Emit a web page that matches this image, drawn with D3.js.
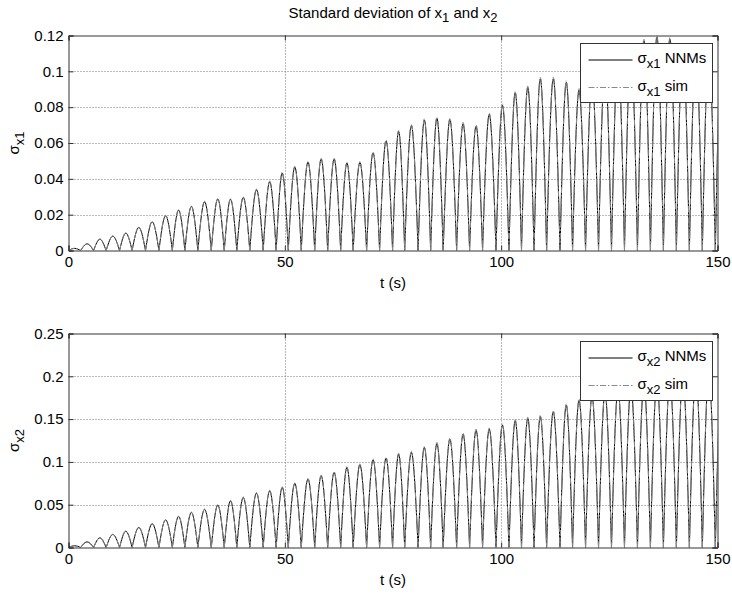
<!DOCTYPE html>
<html>
<head>
<meta charset="utf-8">
<script src="https://cdn.jsdelivr.net/npm/d3@7"></script>
<style>
  body { margin: 0; background: #fff; }
  svg { display: block; }
  text { font-family: Arial, "Liberation Sans", Helvetica, sans-serif; fill: #000; }
</style>
</head>
<body>
<svg id="fig" width="732" height="594"></svg>
<script>
// Zero crossings (s) of the oscillating standard deviation, shared by both responses
const tZero = [0, 2.8, 5.8, 8.7, 11.8, 14.7, 17.8, 20.9, 24.0, 26.9, 29.9, 33.0, 36.0, 38.9, 41.9,
  45.0, 48.0, 50.8, 53.8, 56.9, 59.9, 62.9, 65.8, 68.9, 71.9, 74.9, 77.7, 80.8, 83.7, 86.6, 89.7,
  92.7, 95.7, 98.8, 101.8, 104.7, 107.6, 110.5, 113.6, 116.5, 119.5, 122.5, 125.5, 128.5, 131.5,
  134.5, 137.5, 140.5, 143.5, 146.5, 149.5, 152.5];
// Time (s) of each local maximum
const tPeak = [1.4, 4.3, 7.25, 10.25, 13.25, 16.25, 19.35, 22.45, 25.45, 28.4, 31.45, 34.5, 37.45,
  40.4, 43.45, 46.5, 49.4, 52.3, 55.35, 58.4, 61.4, 64.35, 67.35, 70.4, 73.4, 76.3, 79.25, 82.25,
  85.15, 88.15, 91.2, 94.2, 97.25, 100.3, 103.25, 106.15, 109.05, 112.05, 115.05, 118.0, 121.0,
  124.0, 127.0, 130.0, 133.0, 136.0, 139.0, 142.0, 145.0, 148.0, 151.0];

// Peak values of sigma_x1
const x1NNMs = [0.0012, 0.0037, 0.0063, 0.0080, 0.0097, 0.0129, 0.0160, 0.0194, 0.0225, 0.0246,
  0.0272, 0.0287, 0.0286, 0.0296, 0.0339, 0.0384, 0.0432, 0.0466, 0.0493, 0.0510, 0.0510, 0.0488,
  0.0491, 0.0545, 0.0612, 0.0665, 0.0697, 0.0728, 0.0738, 0.0731, 0.0707, 0.0694, 0.0760, 0.0810,
  0.0880, 0.0910, 0.0958, 0.0958, 0.0938, 0.0895, 0.0960, 0.1025, 0.1080, 0.1125, 0.1170, 0.1190,
  0.1180, 0.1140, 0.1110, 0.1120, 0.1170];
const x1Sim = [0.0012, 0.0038, 0.0064, 0.0081, 0.0098, 0.0130, 0.0162, 0.0196, 0.0228, 0.0248,
  0.0275, 0.0290, 0.0289, 0.0299, 0.0343, 0.0388, 0.0437, 0.0470, 0.0497, 0.0515, 0.0515, 0.0494,
  0.0497, 0.0551, 0.0618, 0.0671, 0.0704, 0.0735, 0.0745, 0.0739, 0.0715, 0.0702, 0.0768, 0.0818,
  0.0888, 0.0918, 0.0966, 0.0967, 0.0947, 0.0904, 0.0969, 0.1034, 0.1089, 0.1134, 0.1179, 0.1199,
  0.1190, 0.1150, 0.1120, 0.1130, 0.1180];

// Peak values of sigma_x2
const x2NNMs = [0.0020, 0.0066, 0.0113, 0.0152, 0.0190, 0.0234, 0.0277, 0.0323, 0.0362, 0.0409,
  0.0444, 0.0494, 0.0545, 0.0584, 0.0635, 0.0662, 0.0701, 0.0748, 0.0798, 0.0837, 0.0876, 0.0935,
  0.0966, 0.1024, 0.1044, 0.1090, 0.1110, 0.1168, 0.1215, 0.1266, 0.1324, 0.1370, 0.1382, 0.1430,
  0.1480, 0.1507, 0.1530, 0.1585, 0.1663, 0.1720, 0.1760, 0.1800, 0.1840, 0.1875, 0.1905, 0.1935,
  0.1965, 0.1990, 0.2015, 0.2040, 0.2060];
const x2Sim = [0.0020, 0.0067, 0.0115, 0.0154, 0.0193, 0.0237, 0.0281, 0.0327, 0.0367, 0.0414,
  0.0450, 0.0500, 0.0551, 0.0591, 0.0642, 0.0670, 0.0709, 0.0757, 0.0807, 0.0847, 0.0886, 0.0945,
  0.0977, 0.1035, 0.1056, 0.1102, 0.1123, 0.1181, 0.1228, 0.1280, 0.1338, 0.1384, 0.1397, 0.1445,
  0.1495, 0.1523, 0.1546, 0.1601, 0.1679, 0.1737, 0.1777, 0.1818, 0.1858, 0.1893, 0.1923, 0.1954,
  0.1984, 0.2009, 0.2034, 0.2060, 0.2080];

const xTicks = [0, 50, 100, 150];
const y1Ticks = [0, 0.02, 0.04, 0.06, 0.08, 0.1, 0.12];
const y2Ticks = [0, 0.05, 0.1, 0.15, 0.2, 0.25];

const svg = d3.select("#fig");
const FS = 15, SUB = 13;

// Title with subscripts
const title = svg.append("text").attr("x", 393).attr("y", 18).attr("text-anchor", "middle")
  .style("font-size", FS + "px");
title.append("tspan").text("Standard deviation of x");
title.append("tspan").attr("dy", 4).style("font-size", SUB + "px").text("1");
title.append("tspan").attr("dy", -4).text(" and x");
title.append("tspan").attr("dy", 4).style("font-size", SUB + "px").text("2");

function sigmaLabel(sel, sub, rest) {
  sel.append("tspan").text("σ");
  sel.append("tspan").attr("dy", 5).style("font-size", SUB + "px").text(sub);
  if (rest) sel.append("tspan").attr("dy", -5).text(rest);
}

function panel(cfg) {
  const { top, bottom, yMax, yTicks, fmt, nnm, sim, sub, id } = cfg;
  const left = 68.5, right = 717.5;
  const x = d3.scaleLinear().domain([0, 150]).range([left, right]);
  const y = d3.scaleLinear().domain([0, yMax]).range([bottom, top]);
  const g = svg.append("g");

  g.append("defs").append("clipPath").attr("id", id)
    .append("rect").attr("x", left).attr("y", top).attr("width", right - left).attr("height", bottom - top);

  // dotted grid
  const grid = g.append("g").attr("fill", "none");
  grid.selectAll(".gx").data(xTicks.filter(t => t > 0 && t < 150)).join("line")
    .attr("x1", d => Math.round(x(d)) + 0.5).attr("x2", d => Math.round(x(d)) + 0.5)
    .attr("y1", top).attr("y2", bottom)
    .attr("stroke", "#777").attr("stroke-width", 1).attr("stroke-dasharray", "1,2");
  grid.selectAll(".gy").data(yTicks.filter(t => t > 0 && t < yMax)).join("line")
    .attr("y1", d => Math.round(y(d)) + 0.5).attr("y2", d => Math.round(y(d)) + 0.5)
    .attr("x1", left).attr("x2", right)
    .attr("stroke", "#777").attr("stroke-width", 1).attr("stroke-dasharray", "1,2");

  // one arch per interval between zero crossings
  const line = d3.line().x(d => x(d[0])).y(d => y(d[1])).curve(d3.curveMonotoneX);
  const archPath = peaks => peaks.map((p, k) =>
    line([[tZero[k], 0], [tPeak[k], p], [tZero[k + 1], 0]])).join("");

  const plot = g.append("g").attr("clip-path", `url(#${id})`);
  plot.append("path").attr("d", archPath(nnm)).attr("fill", "none")
    .attr("stroke", "#000").attr("stroke-width", 1).attr("stroke-linejoin", "round");
  plot.append("path").attr("d", archPath(sim)).attr("fill", "none")
    .attr("stroke", "#8a8a8a").attr("stroke-width", 1).attr("stroke-dasharray", "6,2,1.5,2");

  // axes: labelled bottom/left, inward ticks on all four sides
  const tk = 5;
  const ax = g.append("g").attr("transform", `translate(0,${bottom})`)
    .call(d3.axisBottom(x).tickValues(xTicks).tickFormat(d3.format("d")).tickSize(-tk).tickPadding(6));
  const axT = g.append("g").attr("transform", `translate(0,${top})`)
    .call(d3.axisTop(x).tickValues(xTicks).tickSize(-tk).tickFormat(""));
  const ayL = g.append("g").attr("transform", `translate(${left},0)`)
    .call(d3.axisLeft(y).tickValues(yTicks).tickFormat(fmt).tickSize(-tk).tickPadding(5));
  const ayR = g.append("g").attr("transform", `translate(${right},0)`)
    .call(d3.axisRight(y).tickValues(yTicks).tickSize(-tk).tickFormat(""));
  [ax, axT, ayL, ayR].forEach(a => {
    a.select(".domain").attr("stroke", "#333");
    a.selectAll(".tick line").attr("stroke", "#333");
    a.selectAll("text").style("font-size", FS + "px").attr("fill", "#000")
      .style("font-family", 'Arial, "Liberation Sans", sans-serif');
  });

  // axis titles
  g.append("text").attr("x", (left + right) / 2).attr("y", bottom + 37)
    .attr("text-anchor", "middle").style("font-size", FS + "px").text("t (s)");
  const yl = g.append("text").attr("transform", `translate(19,${(top + bottom) / 2}) rotate(-90)`)
    .attr("text-anchor", "middle").style("font-size", FS + "px");
  sigmaLabel(yl, sub);

  // legend
  const lx = 580.5, ly = top + 8, lw = 132, lh = 59;
  const lg = g.append("g");
  lg.append("rect").attr("x", lx).attr("y", ly).attr("width", lw).attr("height", lh)
    .attr("fill", "#fff").attr("stroke", "#333").attr("stroke-width", 1);
  const rows = [
    { dy: 16.5, stroke: "#000", dash: null, label: " NNMs" },
    { dy: 44, stroke: "#8a8a8a", dash: "6,2,1.5,2", label: " sim" }
  ];
  rows.forEach(r => {
    lg.append("line").attr("x1", lx + 8).attr("x2", lx + 52).attr("y1", ly + r.dy).attr("y2", ly + r.dy)
      .attr("stroke", r.stroke).attr("stroke-width", 1).attr("stroke-dasharray", r.dash);
    const t = lg.append("text").attr("x", lx + 57).attr("y", ly + r.dy + 3).style("font-size", FS + "px");
    sigmaLabel(t, sub, r.label);
  });
}

panel({ id: "c1", top: 35.5, bottom: 250.5, yMax: 0.12, yTicks: y1Ticks,
  fmt: d => d === 0 ? "0" : String(+d.toFixed(2)), nnm: x1NNMs, sim: x1Sim, sub: "x1" });
panel({ id: "c2", top: 333.5, bottom: 547.5, yMax: 0.25, yTicks: y2Ticks,
  fmt: d => d === 0 ? "0" : String(+d.toFixed(2)), nnm: x2NNMs, sim: x2Sim, sub: "x2" });
</script>
</body>
</html>
